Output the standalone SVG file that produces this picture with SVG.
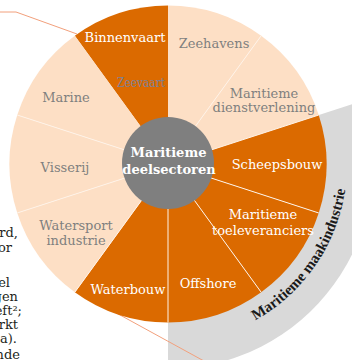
<svg xmlns="http://www.w3.org/2000/svg" width="352" height="360" viewBox="0 0 352 360">
  <style>
    .lbl { font-family: "DejaVu Serif", "Liberation Serif", serif; font-size: 13px; text-anchor: middle; }
    .dark { fill: #DB6A00; }
    .light { fill: #FDDFC5; }
    .onDark { fill: #FFFFFF; }
    .onLight { fill: #7F7F7F; }
    .sep { stroke: #FFF3E8; stroke-width: 1; fill: none; }
    .callout { stroke: #F2A07C; stroke-width: 1; fill: none; }
    .body { font-family: "DejaVu Serif", "Liberation Serif", serif; font-size: 13px; fill: #231F20; text-anchor: end; }
  </style>
  <defs>
    <path id="bandArc" d="M215.83,336.48 A179,179 0 0 0 346.18,146.84"/>
  </defs>
  <rect width="352" height="360" fill="#FFFFFF"/>

  <!-- edge of the neighbouring text column -->
  <g id="side-text">
    <text class="body" x="18" y="237">erd,</text>
    <text class="body" x="12" y="252">or</text>
    <text class="body" x="10" y="287">el</text>
    <text class="body" x="18" y="301">gen</text>
    <text class="body" x="22" y="315">eft²;</text>
    <text class="body" x="18" y="329">rkt</text>
    <text class="body" x="17" y="343">a).</text>
    <text class="body" x="20" y="359">nde</text>
  </g>

  <!-- grey band behind the manufacturing sectors -->
  <g id="band">
    <path d="M168,164 L362.97,100.65 A205,205 0 0 1 168,369 Z" fill="#D9D9D9"/>
    <text font-family="Liberation Serif, DejaVu Serif, serif" font-size="15" font-weight="bold" fill="#1A1A1A" text-anchor="middle">
      <textPath href="#bandArc" startOffset="50%">Maritieme maakindustrie</textPath>
    </text>
  </g>

  <g id="connectors">
    <polyline class="callout" points="0,12 16,12 77,34"/>
    <line class="callout" x1="110" y1="309.5" x2="204" y2="361"/>
  </g>

  <!-- ten sectors of 36 degrees -->
  <g id="binnenvaart">
    <path class="dark" d="M168,164 L74.83,35.77 A158.5,158.5 0 0 1 168,5.5 Z"/>
    <text class="lbl onDark" x="125" y="42">Binnenvaart</text>
    <text class="lbl" x="141" y="87" fill="#7C8198" textLength="48" lengthAdjust="spacingAndGlyphs">Zeevaart</text>
  </g>
  <g id="zeehavens">
    <path class="light" d="M168,164 L168,5.5 A158.5,158.5 0 0 1 261.17,35.77 Z"/>
    <text class="lbl onLight" x="214" y="48">Zeehavens</text>
  </g>
  <g id="dienstverlening">
    <path class="light" d="M168,164 L261.17,35.77 A158.5,158.5 0 0 1 318.74,115.02 Z"/>
    <text class="lbl onLight" x="264" y="98">Maritieme</text>
    <text class="lbl onLight" x="264" y="112">dienstverlening</text>
  </g>
  <g id="scheepsbouw">
    <path class="dark" d="M168,164 L318.74,115.02 A158.5,158.5 0 0 1 318.74,212.98 Z"/>
    <text class="lbl onDark" x="277" y="169">Scheepsbouw</text>
  </g>
  <g id="offshore">
    <path class="dark" d="M168,164 L261.17,292.23 A158.5,158.5 0 0 1 168,322.5 Z"/>
    <text class="lbl onDark" x="208" y="288">Offshore</text>
  </g>
  <g id="toeleveranciers">
    <path class="dark" d="M168,164 L318.74,212.98 A158.5,158.5 0 0 1 261.17,292.23 Z"/>
    <text class="lbl onDark" x="263" y="219">Maritieme</text>
    <text class="lbl onDark" x="263" y="235">toeleveranciers</text>
  </g>
  <g id="waterbouw">
    <path class="dark" d="M168,164 L168,322.5 A158.5,158.5 0 0 1 74.83,292.23 Z"/>
    <text class="lbl onDark" x="128" y="294">Waterbouw</text>
  </g>
  <g id="watersport">
    <path class="light" d="M168,164 L74.83,292.23 A158.5,158.5 0 0 1 17.26,212.98 Z"/>
    <text class="lbl onLight" x="76" y="230">Watersport</text>
    <text class="lbl onLight" x="76" y="245">industrie</text>
  </g>
  <g id="visserij">
    <path class="light" d="M168,164 L17.26,212.98 A158.5,158.5 0 0 1 17.26,115.02 Z"/>
    <text class="lbl onLight" x="65" y="172">Visserij</text>
  </g>
  <g id="marine">
    <path class="light" d="M168,164 L17.26,115.02 A158.5,158.5 0 0 1 74.83,35.77 Z"/>
    <text class="lbl onLight" x="66" y="102">Marine</text>
  </g>

  <g id="separators">
    <path class="sep" d="M168,164 L261.17,35.77 M168,164 L318.74,115.02 M168,164 L318.74,212.98 M168,164 L261.17,292.23 M168,164 L168,322.5 M168,164 L74.83,292.23 M168,164 L17.26,212.98 M168,164 L17.26,115.02"/>
  </g>

  <g id="centre">
    <circle cx="168" cy="163" r="46" fill="#7F7F7F"/>
    <text class="lbl" x="168.5" y="157" fill="#FFFFFF" font-weight="bold">Maritieme</text>
    <text class="lbl" x="169" y="173.5" fill="#FFFFFF" font-weight="bold">deelsectoren</text>
  </g>
</svg>
